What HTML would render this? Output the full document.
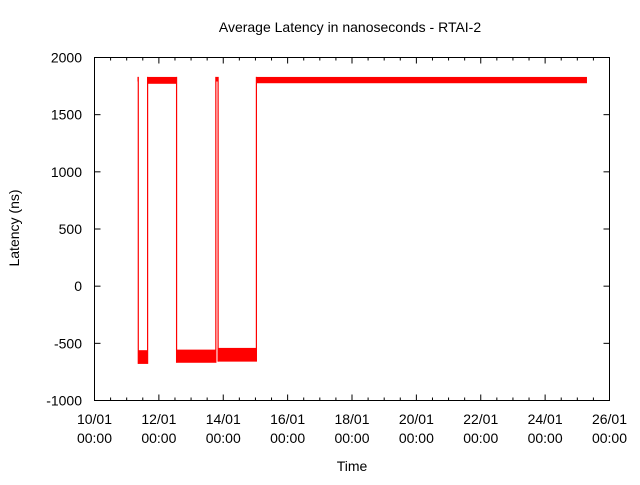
<!DOCTYPE html>
<html><head><meta charset="utf-8"><style>
body{margin:0;background:#fff}
svg text{font-family:"Liberation Sans",sans-serif;font-size:14px;fill:#000}
</style></head><body>
<svg id="c" width="640" height="480">
<text x="350" y="32" text-anchor="middle">Average Latency in nanoseconds - RTAI-2</text>
<text x="352" y="471" text-anchor="middle">Time</text>
<text transform="translate(19,228) rotate(-90)" text-anchor="middle">Latency (ns)</text>
<g id="ax"></g><g id="marks"></g>
<rect x="94.5" y="57.5" width="515" height="343" fill="none" stroke="#000"/>
</svg>
<script>
const yTicks=[-1000,-500,0,500,1000,1500,2000];
const xTickLabels=["10/01","12/01","14/01","16/01","18/01","20/01","22/01","24/01","26/01"];
const xTickDays=[0,2,4,6,8,10,12,14,16];
const segStart=[1.335,1.36,1.65,2.55,3.77,3.84,5.03];
const segEnd=[1.36,1.64,2.54,3.76,3.83,5.02,15.3];
const segLow=[1790,-680,1770,-670,1790,-660,1775];
const segHigh=[1830,-560,1830,-555,1830,-540,1830];
const L=94.5,R=609.5,T=57.5,B=400.5;
const X=d=>L+d/16*(R-L);
const Y=v=>B-(v+1000)/3000*(B-T);
const ns="http://www.w3.org/2000/svg";
const ax=document.getElementById('ax'),mk=document.getElementById('marks');
function mkEl(t,a,p){const e=document.createElementNS(ns,t);for(const k in a)e.setAttribute(k,a[k]);p.appendChild(e);return e;}
yTicks.forEach(v=>{
 const y=Y(v);
 const t=mkEl('line',{x1:L,x2:L+6,y1:y,y2:y,stroke:'#000'},ax);
 
 
 const t2=mkEl('line',{x1:R-6,x2:R,y1:y,y2:y,stroke:'#000'},ax);
 
 
 const s=mkEl('text',{x:82,y:y+5,'text-anchor':'end'},ax);s.textContent=v;
 
 
});
for(let d=0;d<=16;d+=0.5){
 const x=X(d),len=(d%2===0)?6:3;
 const t=mkEl('line',{x1:x,x2:x,y1:B,y2:B-len,stroke:'#000'},ax);
 
 
 const t2=mkEl('line',{x1:x,x2:x,y1:T,y2:T+len,stroke:'#000'},ax);
 
 
}
xTickDays.forEach((d,i)=>{
 const x=X(d);
 const a=mkEl('text',{x:x,y:424,'text-anchor':'middle'},ax);a.textContent=xTickLabels[i];
 
 
 const b=mkEl('text',{x:x,y:443,'text-anchor':'middle'},ax);b.textContent="00:00";
 
 
});
segStart.forEach((s,i)=>{
 const x1=X(s),x2=X(segEnd[i]);
 const r=mkEl('rect',{x:x1,y:Y(segHigh[i]),width:Math.max(1,x2-x1),height:Y(segLow[i])-Y(segHigh[i]),fill:'#f00'},mk);
 
 
 if(i>0){
  const lo=Math.min(segLow[i],segLow[i-1]),hi=Math.max(segHigh[i],segHigh[i-1]);
  const l=mkEl('line',{x1:x1,x2:x1,y1:Y(lo),y2:Y(hi),stroke:'#f00','stroke-width':1.2},mk);
  
  
 }
});
</script>
</body></html>
